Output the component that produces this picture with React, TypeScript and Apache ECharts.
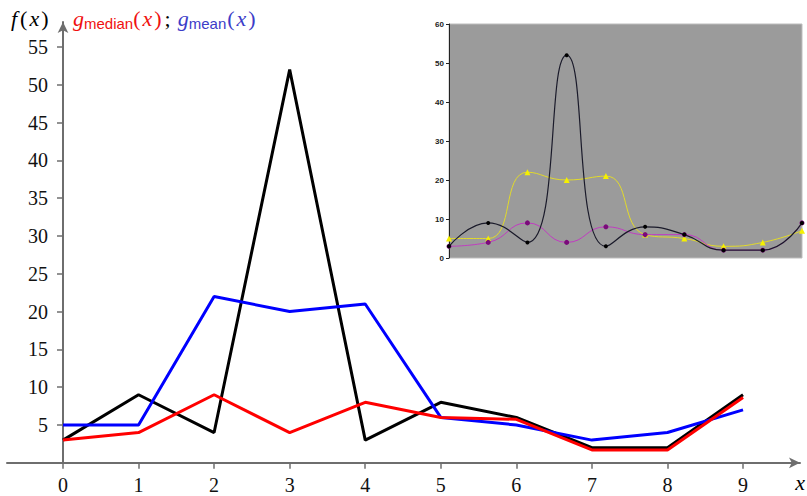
import React, { useEffect, useRef } from "react";
import * as echarts from "echarts";

const xValues = [0, 1, 2, 3, 4, 5, 6, 7, 8, 9];
const fValues = [3, 9, 4, 52, 3, 8, 6, 2, 2, 9];
const medianValues = [3, 4, 9, 4, 8, 6, 5.75, 1.7, 1.7, 8.65];
const meanValues = [5, 5, 22, 20, 21, 6, 5, 3, 4, 7];
const yTicks = [5, 10, 15, 20, 25, 30, 35, 40, 45, 50, 55];

const insetF = [3, 9, 4, 52, 3, 8, 6, 2, 2, 9];
const insetMedian = [3, 4, 9, 4, 8, 6, 6, 2, 2, 9];
const insetMean = [5, 5, 22, 20, 21, 6, 5, 3, 4, 7];

const SERIF = '"Liberation Serif", "DejaVu Serif", serif';
const SANS = '"Liberation Sans", Arial, sans-serif';

const pairs = (ys: number[]) => xValues.map((x, i) => [x, ys[i]]);

export default function App() {
  const ref = useRef<HTMLDivElement>(null);
  useEffect(() => {
    if (!ref.current) return;
    const chart = echarts.init(ref.current, undefined, { renderer: "svg" });
    const axisGray = "#6e6e6e";
    const RED = "#f01010";
    const BLUE = "#3c3cc8";
    const main = (fill: string, extra: any = {}) => ({
      fontFamily: SERIF,
      fontSize: 22,
      fill,
      lineHeight: 26,
      ...extra,
    });
    const option: any = {
      animation: false,
      backgroundColor: "#ffffff",
      grid: [
        { left: 7, right: 7, top: 22, bottom: 33.2, containLabel: false, outerBoundsMode: "none" },
        {
          left: 449,
          right: 5,
          top: 24,
          bottom: 238,
          containLabel: false,
          outerBoundsMode: "none",
          show: true,
          backgroundColor: "#9b9b9b",
          borderColor: "#bdbdbd",
          borderWidth: 1,
          z: 5,
        },
      ],
      xAxis: [
        {
          type: "value",
          gridIndex: 0,
          min: -0.741,
          max: 9.754,
          axisLine: {
            show: true,
            onZero: false,
            symbol: ["none", "arrow"],
            symbolSize: [8, 11],
            lineStyle: { color: axisGray, width: 2 },
          },
          axisTick: {
            show: true,
            customValues: xValues,
            length: 6,
            lineStyle: { color: axisGray, width: 1.5 },
          },
          axisLabel: {
            customValues: xValues,
            margin: 12,
            fontFamily: SERIF,
            fontSize: 20,
            color: "#111",
          },
          splitLine: { show: false },
        },
        {
          type: "value",
          gridIndex: 1,
          min: 0,
          max: 9,
          axisLine: { show: false },
          axisTick: { show: false },
          axisLabel: { show: false },
          splitLine: { show: false },
        },
      ],
      yAxis: [
        {
          type: "value",
          gridIndex: 0,
          min: 0,
          max: 58.3,
          offset: -56,
          axisLine: {
            show: true,
            onZero: false,
            symbol: ["none", "arrow"],
            symbolSize: [8, 11],
            lineStyle: { color: axisGray, width: 2 },
          },
          axisTick: {
            show: true,
            customValues: yTicks,
            length: 6,
            lineStyle: { color: axisGray, width: 1.5 },
          },
          axisLabel: {
            customValues: yTicks,
            margin: 15,
            fontFamily: SERIF,
            fontSize: 20,
            color: "#111",
          },
          splitLine: { show: false },
        },
        {
          type: "value",
          gridIndex: 1,
          min: 0,
          max: 60,
          interval: 10,
          axisLine: { show: true, lineStyle: { color: "#222", width: 1 } },
          axisTick: { show: true, length: 3, lineStyle: { color: "#222" } },
          axisLabel: {
            margin: 5,
            fontFamily: SANS,
            fontSize: 8,
            fontWeight: "bold",
            color: "#222",
          },
          splitLine: { show: false },
          z: 6,
        },
      ],
      graphic: [
        {
          type: "text",
          x: 9,
          y: 18,
          style: {
            text: "{f|f}{r|(}{i|x}{r|)}",
            verticalAlign: "middle",
            rich: {
              f: main("#000", { fontStyle: "italic", padding: [0, 3, 0, 2] }),
              i: main("#000", { fontStyle: "italic", padding: [0, 2, 0, 2] }),
              r: main("#000"),
            },
          },
        },
        {
          type: "text",
          x: 73,
          y: 18,
          style: {
            text:
              "{gr|g}{sr|median}{pr|(}{xr|x}{pr|)}{sc|;}{gb|g}{sb|mean}{pb|(}{xb|x}{pb|)}",
            verticalAlign: "middle",
            rich: {
              gr: main(RED, { fontStyle: "italic" }),
              sr: { fontFamily: SANS, fontSize: 15, fill: RED, verticalAlign: "bottom", lineHeight: 26, padding: [7, 0, 0, 0] },
              pr: main(RED),
              xr: main(RED, { fontStyle: "italic", padding: [0, 2, 0, 2] }),
              sc: main("#000", { padding: [0, 7, 0, 3] }),
              gb: main(BLUE, { fontStyle: "italic" }),
              sb: { fontFamily: SANS, fontSize: 15, fill: BLUE, verticalAlign: "bottom", lineHeight: 26, padding: [7, 1, 0, 0] },
              pb: main(BLUE),
              xb: main(BLUE, { fontStyle: "italic", padding: [0, 2, 0, 2] }),
            },
          },
        },
        {
          type: "text",
          x: 800,
          y: 482,
          style: {
            text: "x",
            font: 'italic 22px "Liberation Serif", serif',
            fill: "#000",
            align: "center",
            verticalAlign: "middle",
          },
        },
      ],
      series: [
        {
          type: "line",
          name: "f",
          xAxisIndex: 0,
          yAxisIndex: 0,
          data: pairs(fValues),
          showSymbol: false,
          lineStyle: { color: "#000", width: 3 },
          z: 2,
        },
        {
          type: "line",
          name: "mean",
          xAxisIndex: 0,
          yAxisIndex: 0,
          data: pairs(meanValues),
          showSymbol: false,
          lineStyle: { color: "#0000ff", width: 3 },
          z: 3,
        },
        {
          type: "line",
          name: "median",
          xAxisIndex: 0,
          yAxisIndex: 0,
          data: pairs(medianValues),
          showSymbol: false,
          lineStyle: { color: "#ff0000", width: 3 },
          z: 4,
        },
        {
          type: "line",
          name: "inset mean",
          xAxisIndex: 1,
          yAxisIndex: 1,
          data: pairs(insetMean),
          smooth: 0.5,
          symbol: "triangle",
          symbolSize: 6,
          itemStyle: { color: "#f5f000" },
          lineStyle: { color: "#e2da2a", width: 1 },
          z: 7,
        },
        {
          type: "line",
          name: "inset median",
          xAxisIndex: 1,
          yAxisIndex: 1,
          data: pairs(insetMedian),
          smooth: 0.5,
          symbol: "circle",
          symbolSize: 5,
          itemStyle: { color: "#7a0a7a" },
          lineStyle: { color: "#c03cc0", width: 1 },
          z: 8,
        },
        {
          type: "line",
          name: "inset f",
          xAxisIndex: 1,
          yAxisIndex: 1,
          data: pairs(insetF),
          smooth: 0.5,
          symbol: "circle",
          symbolSize: 4,
          itemStyle: { color: "#000" },
          lineStyle: { color: "#1a1a2a", width: 1.2 },
          z: 9,
        },
      ],
    };
    chart.setOption(option);
    return () => chart.dispose();
  }, []);
  return <div ref={ref} style={{ width: 807, height: 496, position: "absolute", left: 0, top: 0 }} />;
}
